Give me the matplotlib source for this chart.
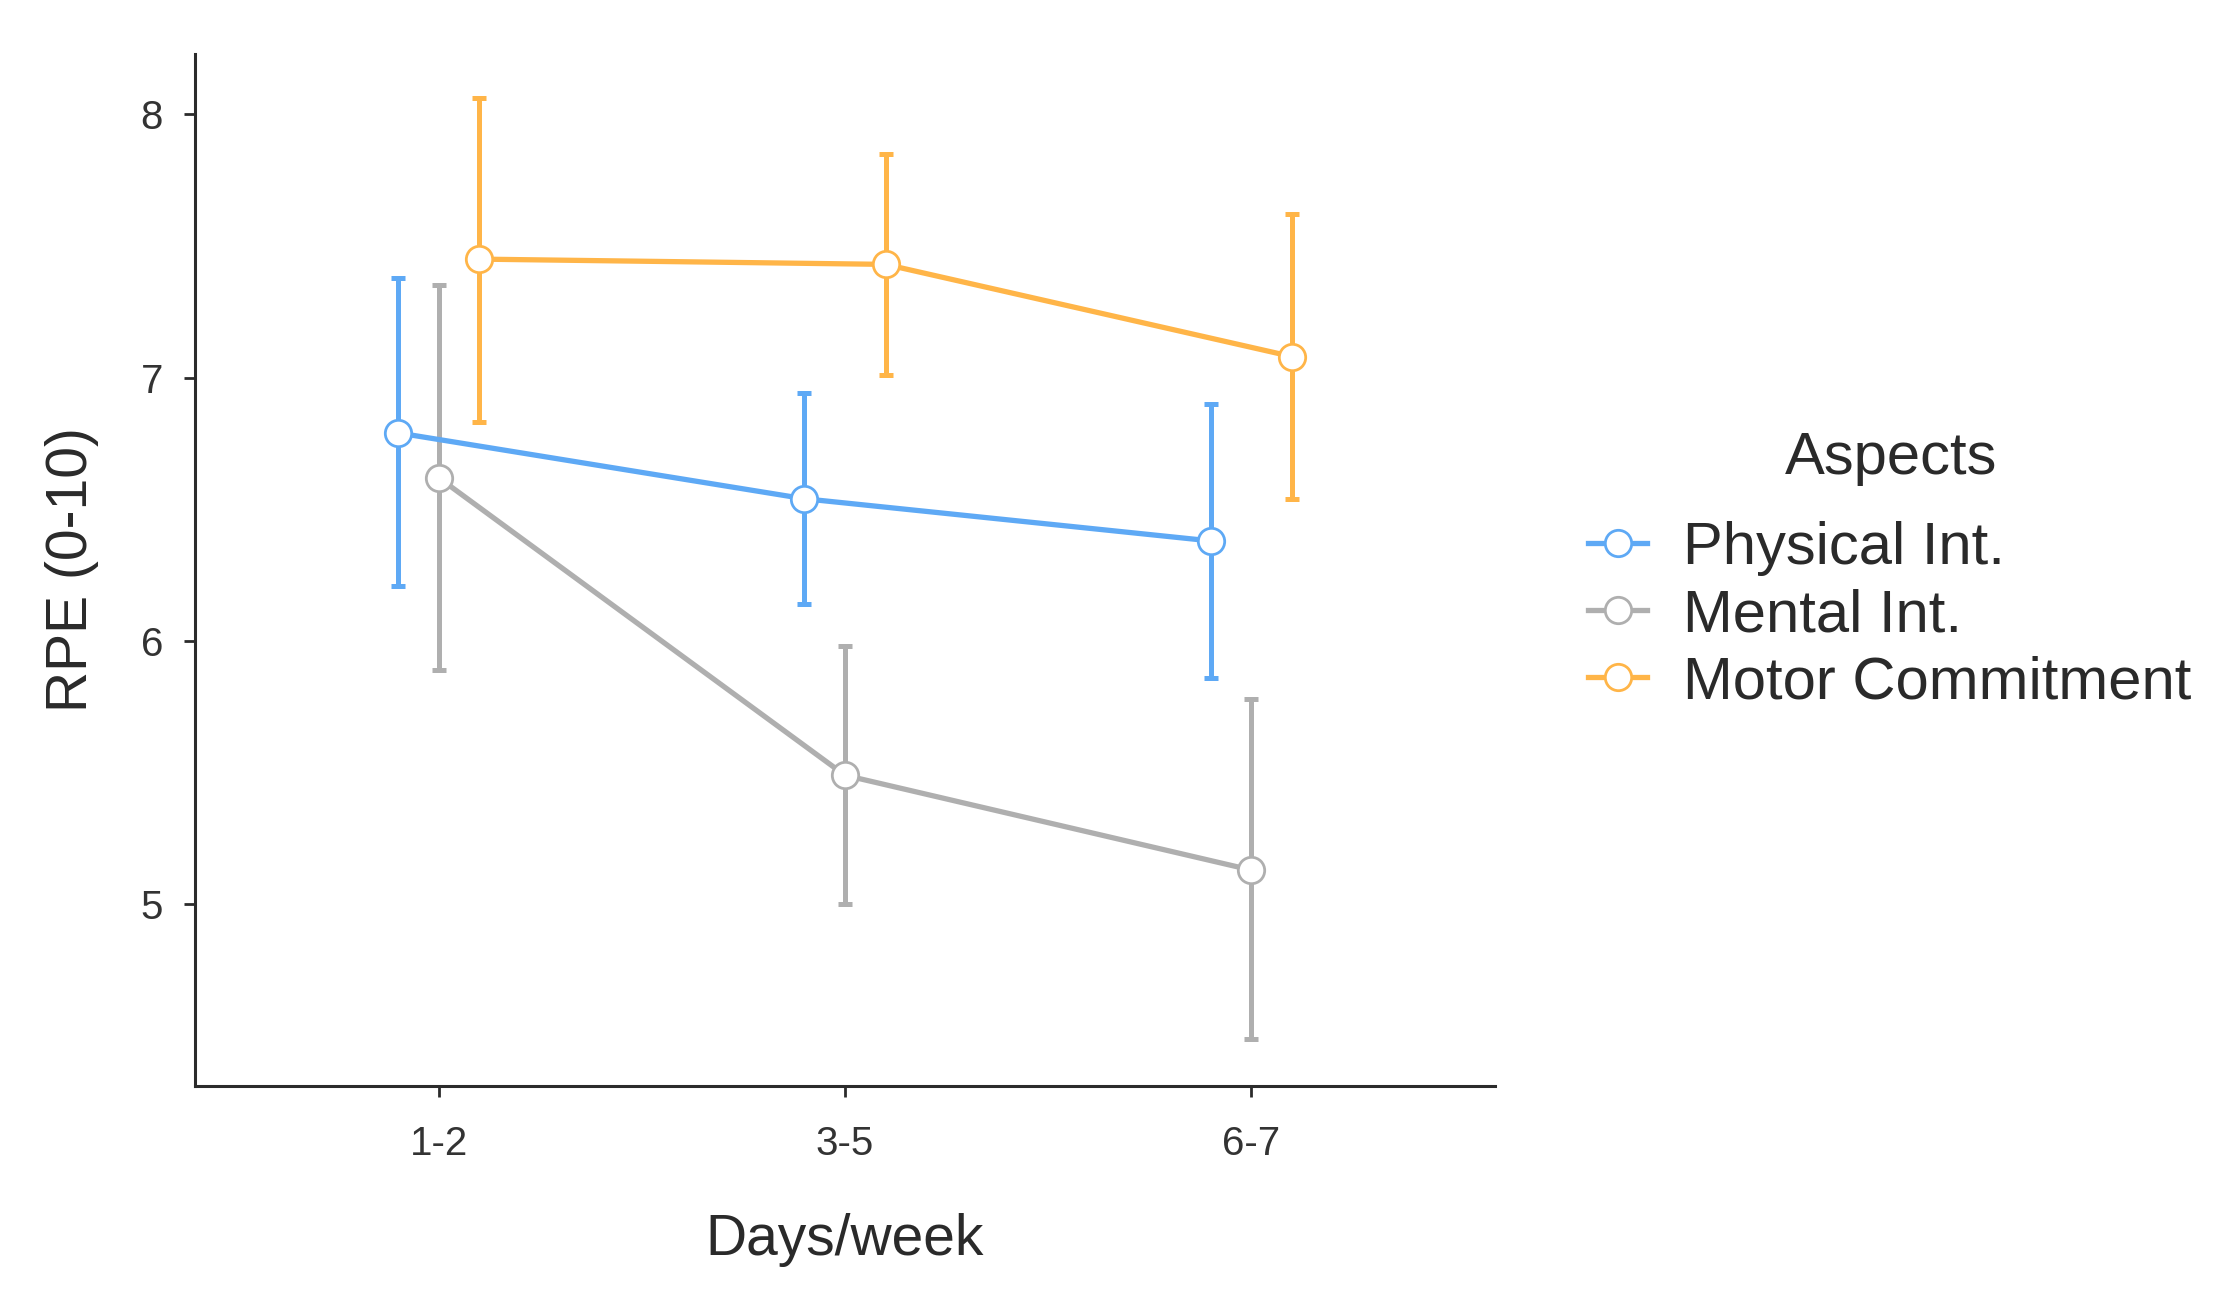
import matplotlib.pyplot as plt
import numpy as np

plt.rcParams['font.family'] = ['Liberation Sans', 'DejaVu Sans']

# Data
days = ["1-2", "3-5", "6-7"]
aspects = ["Physical Int.", "Mental Int.", "Motor Commitment"]
colors = ["#5EA9F5", "#AFAFAF", "#FFB548"]

physical_mean = [6.79, 6.54, 6.38]
physical_low = [6.21, 6.14, 5.86]
physical_high = [7.38, 6.94, 6.90]

mental_mean = [6.62, 5.49, 5.13]
mental_low = [5.89, 5.00, 4.49]
mental_high = [7.35, 5.98, 5.78]

motor_mean = [7.45, 7.43, 7.08]
motor_low = [6.83, 7.01, 6.54]
motor_high = [8.06, 7.85, 7.62]

means = [physical_mean, mental_mean, motor_mean]
lows = [physical_low, mental_low, motor_low]
highs = [physical_high, mental_high, motor_high]
dodge = [-0.1, 0.0, 0.1]

fig = plt.figure(figsize=(11.15, 6.55), dpi=200)
ax = fig.add_axes([0.0874, 0.171, 0.583, 0.788])

x = np.arange(1, len(days) + 1)
handles = []
for m, lo, hi, c, d, name in zip(means, lows, highs, colors, dodge, aspects):
    m = np.array(m)
    xs = x + d
    yerr = [m - np.array(lo), np.array(hi) - m]
    ax.errorbar(xs, m, yerr=yerr, fmt='none', ecolor=c, elinewidth=1.8,
                capsize=2.4, capthick=1.8, zorder=2)
    ax.plot(xs, m, color=c, lw=1.9, zorder=3)
    ax.plot(xs, m, marker='o', markersize=9.5, markerfacecolor='white',
            markeredgecolor=c, markeredgewidth=1.0, linestyle='none', zorder=4)
    handles.append(plt.Line2D([], [], color=c, lw=1.9, marker='o', markersize=9.5,
                              markerfacecolor='white', markeredgecolor=c,
                              markeredgewidth=1.0, label=name))

ax.set_xlim(0.4, 3.6)
ax.set_ylim(4.31, 8.23)
ax.set_xticks(x)
ax.set_xticklabels(days)
ax.set_yticks([5, 6, 7, 8])

for s in ['top', 'right']:
    ax.spines[s].set_visible(False)
for s in ['left', 'bottom']:
    ax.spines[s].set_linewidth(1.1)
    ax.spines[s].set_color('#2b2b2b')
ax.tick_params(axis='both', length=4, width=1.0, color='#2b2b2b',
               labelsize=14.5, labelcolor='#333333')
ax.tick_params(axis='x', pad=10)
ax.tick_params(axis='y', pad=7.5)

ax.set_xlabel("Days/week", fontsize=20.5, color='#2a2a2a', labelpad=18)
ax.set_ylabel("RPE (0-10)", fontsize=20.5, color='#2a2a2a', labelpad=15)

# legend: title placed on its own so the gap to the entries matches
fig.text(0.848, 0.650, "Aspects", fontsize=21.5, color='#2a2a2a',
         ha='center', va='center')
fig.legend(handles=handles, loc='center left',
           bbox_to_anchor=(0.712, 0.530), frameon=False, fontsize=21.5,
           handlelength=1.0, handletextpad=0.6,
           labelspacing=0.2, borderpad=0, borderaxespad=0,
           labelcolor='#2a2a2a')

fig.savefig("out.png", dpi=200, facecolor='white')
